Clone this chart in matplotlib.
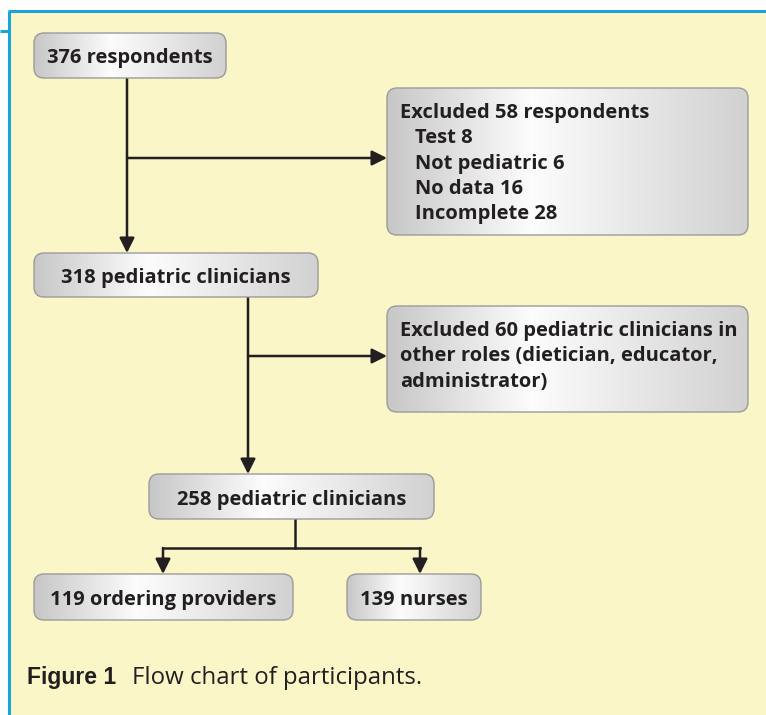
import matplotlib.pyplot as plt
import numpy as np
from matplotlib.patches import FancyBboxPatch

# box texts
box_labels = ["376 respondents", "318 pediatric clinicians", "258 pediatric clinicians",
              "119 ordering providers", "139 nurses"]
excl1_lines = ["Excluded 58 respondents", "  Test 8", "  Not pediatric 6",
               "  No data 16", "  Incomplete 28"]
excl2_lines = ["Excluded 60 pediatric clinicians in", "other roles (dietician, educator,",
               "administrator)"]
caption_bold = "Figure 1"
caption_text = "Flow chart of participants."

# layout in pixels (x0, y0, x1, y1)
main_boxes = [(34, 33, 226, 78), (34, 253, 318, 297), (149, 474, 434, 519),
              (34, 574, 293, 620), (347, 574, 481, 620)]
excl_boxes = [(387, 88, 748, 235), (387, 306, 748, 412)]

TXT = "#231f20"
FONT = "Open Sans"
FS = 14.5

fig = plt.figure(figsize=(7.66, 7.15), dpi=100)
ax = fig.add_axes([0, 0, 1, 1])
ax.set_xlim(0, 766)
ax.set_ylim(715, 0)
ax.axis("off")

# yellow panel with blue border
ax.add_patch(plt.Rectangle((10, 12), 760, 710, facecolor="#faf6c8", edgecolor="none"))
ax.plot([9, 9], [11, 715], color="#1ba3dc", lw=2.2, solid_capstyle="butt")
ax.plot([8, 766], [11, 11], color="#1ba3dc", lw=2.2, solid_capstyle="butt")
ax.plot([0, 9], [31, 31], color="#1ba3dc", lw=2.2, solid_capstyle="butt")

# horizontal grey gradient used for all boxes
xs = np.linspace(0, 1, 256)
g = np.interp(xs, [0, 0.4, 1], [0.78, 0.99, 0.82])
grad = np.stack([g, g, g], axis=-1)[None, :, :]


def box(x0, y0, x1, y1):
    patch = FancyBboxPatch((x0, y0), x1 - x0, y1 - y0,
                           boxstyle="round,pad=0,rounding_size=10",
                           facecolor="none", edgecolor="#9b9b9b", lw=1.0, zorder=3)
    ax.add_patch(patch)
    im = ax.imshow(grad, extent=(x0, x1, y1, y0), aspect="auto", zorder=2,
                   interpolation="bilinear")
    im.set_clip_path(patch)


for (x0, y0, x1, y1), lab in zip(main_boxes, box_labels):
    box(x0, y0, x1, y1)
    ax.text((x0 + x1) / 2, (y0 + y1) / 2 + 3, lab, ha="center", va="center",
            fontsize=FS, fontweight="bold", color=TXT, family=FONT, zorder=4)

for (x0, y0, x1, y1), lines in zip(excl_boxes, [excl1_lines, excl2_lines]):
    box(x0, y0, x1, y1)
    for i, ln in enumerate(lines):
        indent = 15 if ln.startswith("  ") else 0
        ax.text(x0 + 13 + indent, y0 + 25 + i * 25.3, ln.strip(), ha="left", va="center",
                fontsize=FS, fontweight="bold", color=TXT, family=FONT, zorder=4)

# connectors
lw = 1.8
arrow = dict(arrowstyle="-|>,head_length=0.9,head_width=0.45", color=TXT, lw=lw,
             shrinkA=0, shrinkB=0)


def arr(x0, y0, x1, y1):
    ax.annotate("", xy=(x1, y1), xytext=(x0, y0), arrowprops=arrow, zorder=1)


arr(127, 78, 127, 253)
arr(127, 158, 387, 158)
arr(248, 297, 248, 474)
arr(248, 356, 387, 356)
ax.plot([295, 295], [519, 548], color=TXT, lw=lw, zorder=1)
ax.plot([163, 420], [548, 548], color=TXT, lw=lw, zorder=1, solid_capstyle="projecting")
arr(163, 548, 163, 574)
arr(420, 548, 420, 574)

# caption
ax.text(27, 684, caption_bold, ha="left", va="baseline", fontsize=16.5,
        fontweight="bold", color=TXT, family="Liberation Sans")
ax.text(132, 684, caption_text, ha="left", va="baseline", fontsize=17.3,
        color=TXT, family="Open Sans")

fig.savefig("out.png", dpi=100)
